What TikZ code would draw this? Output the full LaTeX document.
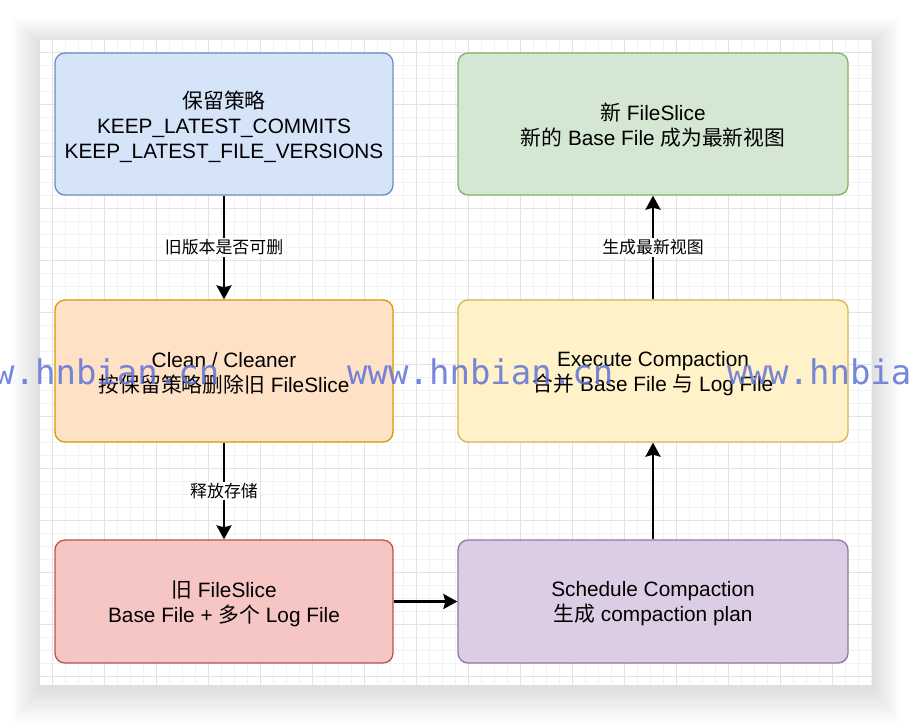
\documentclass[tikz,border=0pt]{standalone}
\usepackage{fontspec}
\setmainfont{Liberation Sans}
\newfontfamily\cjk{Noto Sans CJK SC}
\newfontfamily\wmfont{DejaVu Sans Mono}
\usetikzlibrary{arrows.meta}
\definecolor{bluef}{HTML}{D6E4FA}
\definecolor{bluel}{HTML}{6C8EBF}
\definecolor{greenf}{HTML}{D3E7D2}
\definecolor{greenl}{HTML}{82B366}
\definecolor{orangef}{HTML}{FFE2C6}
\definecolor{orangel}{HTML}{D79B00}
\definecolor{yellowf}{HTML}{FFF1C8}
\definecolor{yellowl}{HTML}{D6B656}
\definecolor{redf}{HTML}{F6C6C4}
\definecolor{redl}{HTML}{B85450}
\definecolor{purplef}{HTML}{DCCDE4}
\definecolor{purplel}{HTML}{9673A6}
\definecolor{gridminor}{HTML}{F2F2F2}
\definecolor{gridmajor}{HTML}{E2E2E2}
\definecolor{wmcol}{RGB}{95,115,215}
\tikzset{
  box/.style={draw, line width=1.3pt, rounded corners=10pt, inner sep=0pt},
  txt/.style={align=center, font=\fontsize{20.8}{25}\selectfont, inner sep=0pt},
  wide/.style={minimum width=390pt},
  narrow/.style={minimum width=338pt},
  arr/.style={line width=2.6pt, -{Stealth[length=14pt,width=15pt,inset=2pt]}},
  lbl/.style={fill=white, font=\fontsize{16.9}{20}\selectfont\cjk, inner sep=1.5pt},
  wm/.style={font=\fontsize{34}{40}\selectfont\wmfont, text=wmcol, text opacity=0.85, inner sep=0pt, anchor=base west}
}
\begin{document}
\begin{tikzpicture}[x=1pt,y=-1pt]
\useasboundingbox (0,0) rectangle (912,724);
\fill[white] (0,0) rectangle (912,724);
% soft page shadow
\foreach \i in {1,...,32}{
  \fill[black,opacity=0.0045] (40-0.9*\i,44-0.8*\i) rectangle (872+0.9*\i,688+1.1*\i);
}
\fill[white] (40,40) rectangle (872,685);
% grid
\foreach \x in {52,65,...,871} \draw[gridminor, line width=1pt] (\x,40) -- (\x,685);
\foreach \y in {52,65,...,684} \draw[gridminor, line width=1pt] (40,\y) -- (872,\y);
\foreach \x in {52,104,...,871} \draw[gridmajor, line width=1pt] (\x,40) -- (\x,685);
\foreach \y in {52,104,...,684} \draw[gridmajor, line width=1pt] (40,\y) -- (872,\y);

% boxes
\node[box, narrow, minimum height=142pt, fill=bluef, draw=bluel] (keep) at (224,124) {};
\node[box, wide, minimum height=142pt, fill=greenf, draw=greenl] (newfs) at (653,124) {};
\node[box, narrow, minimum height=142pt, fill=orangef, draw=orangel] (clean) at (224,371) {};
\node[box, wide, minimum height=142pt, fill=yellowf, draw=yellowl] (exec) at (653,371) {};
\node[box, narrow, minimum height=123pt, fill=redf, draw=redl] (oldfs) at (224,601.5) {};
\node[box, wide, minimum height=123pt, fill=purplef, draw=purplel] (sched) at (653,601.5) {};

% box texts
\node[txt] (tkeep) at ([yshift=-2.5pt]keep.center)
  {{\cjk 保留策略}\\KEEP\_LATEST\_COMMITS\\KEEP\_LATEST\_FILE\_VERSIONS};
\node[txt] (tnew) at ([yshift=-1.5pt]newfs.center)
  {{\cjk 新} FileSlice\\{\cjk 新的} Base File {\cjk 成为最新视图}};
\node[txt] (tclean) at ([yshift=-2pt]clean.center)
  {Clean / Cleaner\\{\cjk 按保留策略删除旧} FileSlice};
\node[txt] (texec) at ([yshift=-2.5pt]exec.center)
  {Execute Compaction\\{\cjk 合并} Base File {\cjk 与} Log File};
\node[txt] (told) at ([yshift=-2pt]oldfs.center)
  {{\cjk 旧} FileSlice\\Base File + {\cjk 多个} Log File};
\node[txt] (tsched) at ([yshift=-2pt]sched.center)
  {Schedule Compaction\\{\cjk 生成} compaction plan};

% connectors
\draw[arr] (keep.south) -- (clean.north) node[midway, lbl] (l1) {旧版本是否可删};
\draw[arr] (clean.south) -- (oldfs.north) node[midway, lbl] (l2) {释放存储};
\draw[arr] (oldfs.east) -- (sched.west);
\draw[arr] (sched.north) -- (exec.south);
\draw[arr] (exec.north) -- (newfs.south) node[midway, lbl] (l3) {生成最新视图};

% watermark
\node[wm] (wm1) at (-47,384) {www.hnbian.cn};
\node[wm] (wm2) at (347,384) {www.hnbian.cn};
\node[wm] (wm3) at (727,384) {www.hnbian.cn};
\end{tikzpicture}
\end{document}
